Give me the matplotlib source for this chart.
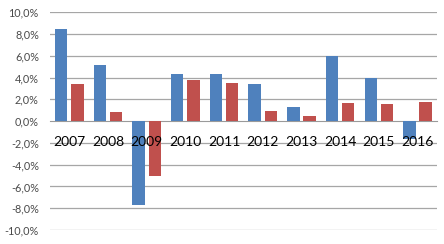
import matplotlib
matplotlib.use("Agg")
import matplotlib.pyplot as plt
import numpy as np

years = ["2007", "2008", "2009", "2010", "2011", "2012", "2013", "2014", "2015", "2016"]
series_blue = [8.5, 5.2, -7.7, 4.3, 4.3, 3.45, 1.3, 6.0, 3.95, -1.6]
series_red = [3.45, 0.8, -5.05, 3.75, 3.5, 0.9, 0.45, 1.65, 1.55, 1.75]
yticks = [-10, -8, -6, -4, -2, 0, 2, 4, 6, 8, 10]

plt.rcParams['font.family'] = ['Lato', 'DejaVu Sans']

fig = plt.figure(figsize=(4.44, 2.44), dpi=100)
ax = fig.add_axes([0.1126, 0.0574, 0.984 - 0.1126, 0.9496 - 0.0574])

x = np.arange(len(years))
w = 0.32
for v in yticks:
    if v != 0:
        ax.axhline(v, color="#a6a6a6", linewidth=0.9, zorder=1)
ax.bar(x - 0.21, series_blue, width=w, color="#4F81BD", zorder=3)
ax.bar(x + 0.21, series_red, width=w, color="#C0504D", zorder=3)

ax.set_xlim(-0.5, len(years) - 0.5)
ax.set_ylim(-10, 10)
ax.set_yticks(yticks)
ax.set_yticklabels([f"{v:.1f}%".replace(".", ",") for v in yticks], color="#4a4a4a", fontsize=7.8)

ax.set_xticks(x)
ax.set_xticklabels(years, color="#4a4a4a", fontsize=7.8)
ax.xaxis.set_zorder(5)
ax.spines['bottom'].set_position(('data', 0))
ax.spines['bottom'].set_color("#9a9a9a")
ax.spines['bottom'].set_zorder(2)
for s in ['left', 'right', 'top']:
    ax.spines[s].set_visible(False)
ax.tick_params(axis='x', length=0, pad=10.5)
ax.tick_params(axis='y', length=0, pad=8)

fig.savefig("out.png", dpi=100)
